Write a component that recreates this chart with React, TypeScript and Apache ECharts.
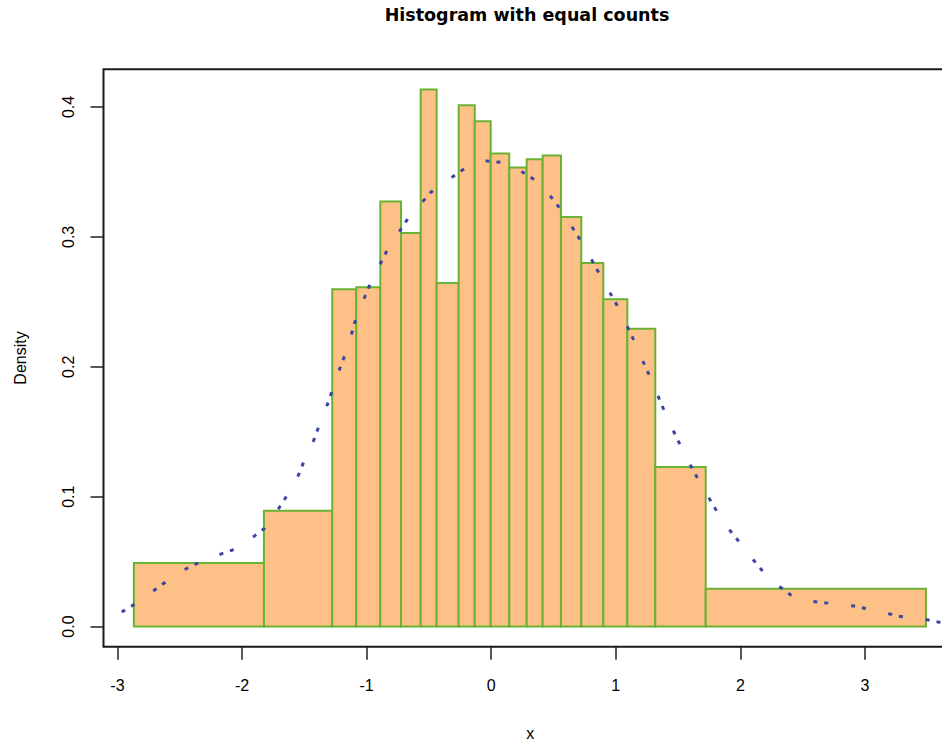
import React, { useEffect, useRef } from "react";
import * as echarts from "echarts";

// Histogram breaks (bin edges) and densities
const breaks = [-2.868, -1.824, -1.276, -1.083, -0.89, -0.724, -0.566, -0.438, -0.261, -0.132, -0.004, 0.145, 0.285, 0.413, 0.56, 0.723, 0.9, 1.093, 1.317, 1.722, 3.49];
const densities = [0.0489, 0.0891, 0.2597, 0.2612, 0.3273, 0.303, 0.4134, 0.2645, 0.4013, 0.389, 0.3642, 0.3534, 0.3598, 0.3627, 0.3153, 0.2799, 0.252, 0.2292, 0.1229, 0.0292];

// Density curve points
const densX = [-2.966, -2.886, -2.705, -2.64, -2.464, -2.372, -2.171, -2.078, -1.902, -1.821, -1.706, -1.653, -1.545, -1.508, -1.42, -1.385, -1.304, -1.272, -1.2, -1.16, -1.096, -1.061, -0.979, -0.935, -0.839, -0.788, -0.678, -0.614, -0.486, -0.405, -0.232, -0.154, -0.04, 0.081, 0.185, 0.36, 0.434, 0.56, 0.611, 0.723, 0.771, 0.868, 0.914, 1.018, 1.06, 1.154, 1.192, 1.283, 1.321, 1.403, 1.446, 1.542, 1.582, 1.687, 1.735, 1.837, 1.895, 2.024, 2.072, 2.206, 2.276, 2.433, 2.549, 2.794, 2.912, 3.161, 3.255, 3.509, 3.608, 3.75];
const densY = [0.0112, 0.0158, 0.0279, 0.0325, 0.0438, 0.0481, 0.0558, 0.0589, 0.0696, 0.0755, 0.0909, 0.0988, 0.117, 0.126, 0.1444, 0.1537, 0.1736, 0.1831, 0.2028, 0.2121, 0.2338, 0.243, 0.262, 0.2707, 0.2889, 0.2968, 0.3127, 0.3201, 0.3342, 0.3401, 0.3514, 0.3552, 0.3585, 0.3573, 0.3539, 0.3432, 0.3365, 0.3209, 0.3135, 0.2963, 0.2886, 0.2715, 0.2635, 0.2461, 0.2374, 0.2187, 0.2096, 0.1906, 0.1818, 0.1629, 0.1539, 0.1349, 0.1272, 0.1088, 0.1011, 0.0845, 0.0765, 0.0612, 0.055, 0.0396, 0.0335, 0.0223, 0.0197, 0.0171, 0.0158, 0.0108, 0.0081, 0.0051, 0.0031, 0.0015];

const xTicks = [-3, -2, -1, 0, 1, 2, 3];
const yTicks = [0, 0.1, 0.2, 0.3, 0.4];

const FONT = "'Liberation Sans', Arial, Helvetica, sans-serif";

export default function App() {
  const ref = useRef<HTMLDivElement>(null);
  useEffect(() => {
    if (!ref.current) return;
    const chart = echarts.init(ref.current, null, { renderer: "svg" });
    const bins = densities.map((d, i) => [breaks[i], breaks[i + 1], d]);
    const curve = densX.map((x, i) => [x, densY[i]]);
    chart.setOption({
      animation: false,
      backgroundColor: "#ffffff",
      title: {
        text: "Histogram with equal counts",
        left: 527,
        top: 6,
        padding: 0,
        textAlign: "center",
        textStyle: { fontFamily: "'DejaVu Sans', sans-serif", fontWeight: "bold", fontSize: 17.5, color: "#000" },
      },
      grid: {
        left: 103.5,
        top: 69.3,
        width: 853.5,
        height: 577.4,
        show: true,
        containLabel: false,
        outerBoundsMode: "none",
        borderColor: "#1a1a1a",
        borderWidth: 2,
        backgroundColor: "transparent",
      },
      xAxis: {
        type: "value",
        min: -3.112,
        max: 3.739,
        name: "x",
        nameLocation: "middle",
        nameGap: 79,
        nameTextStyle: { fontFamily: FONT, fontSize: 16, color: "#000" },
        axisLine: { show: false, onZero: false },
        splitLine: { show: false },
        axisTick: { show: true, customValues: xTicks, length: 13, lineStyle: { color: "#222", width: 1.5 } },
        axisLabel: { customValues: xTicks, margin: 31, fontFamily: FONT, fontSize: 16, color: "#000", formatter: (v: number) => String(Math.round(v)) },
      },
      yAxis: {
        type: "value",
        min: -0.0155,
        max: 0.429,
        name: "Density",
        nameLocation: "middle",
        nameRotate: 90,
        nameGap: 75,
        nameTextStyle: { fontFamily: FONT, fontSize: 16, color: "#000" },
        axisLine: { show: false, onZero: false },
        splitLine: { show: false },
        axisTick: { show: true, customValues: yTicks, length: 13, lineStyle: { color: "#222", width: 1.5 } },
        axisLabel: { customValues: yTicks, rotate: 90, margin: 27, fontFamily: FONT, fontSize: 16, color: "#000", formatter: (v: number) => v.toFixed(1) },
      },
      series: [
        {
          type: "custom",
          data: bins,
          encode: { x: [0, 1], y: 2 },
          z: 2,
          renderItem: (params: any, api: any) => {
            const p0 = api.coord([api.value(0), api.value(2)]);
            const p1 = api.coord([api.value(1), 0]);
            return {
              type: "rect",
              shape: { x: p0[0], y: p0[1], width: p1[0] - p0[0], height: p1[1] - p0[1] },
              style: { fill: "#FDC086", stroke: "#6BB132", lineWidth: 2 },
            };
          },
        },
        {
          type: "line",
          data: curve,
          z: 3,
          symbol: "none",
          showSymbol: false,
          smooth: false,
          lineStyle: { color: "#3D45A3", width: 3, type: [4, 7, 4, 23] },
        },
      ],
    });
    return () => chart.dispose();
  }, []);
  return <div ref={ref} style={{ position: "absolute", left: 0, top: 0, width: 942, height: 742 }} />;
}
